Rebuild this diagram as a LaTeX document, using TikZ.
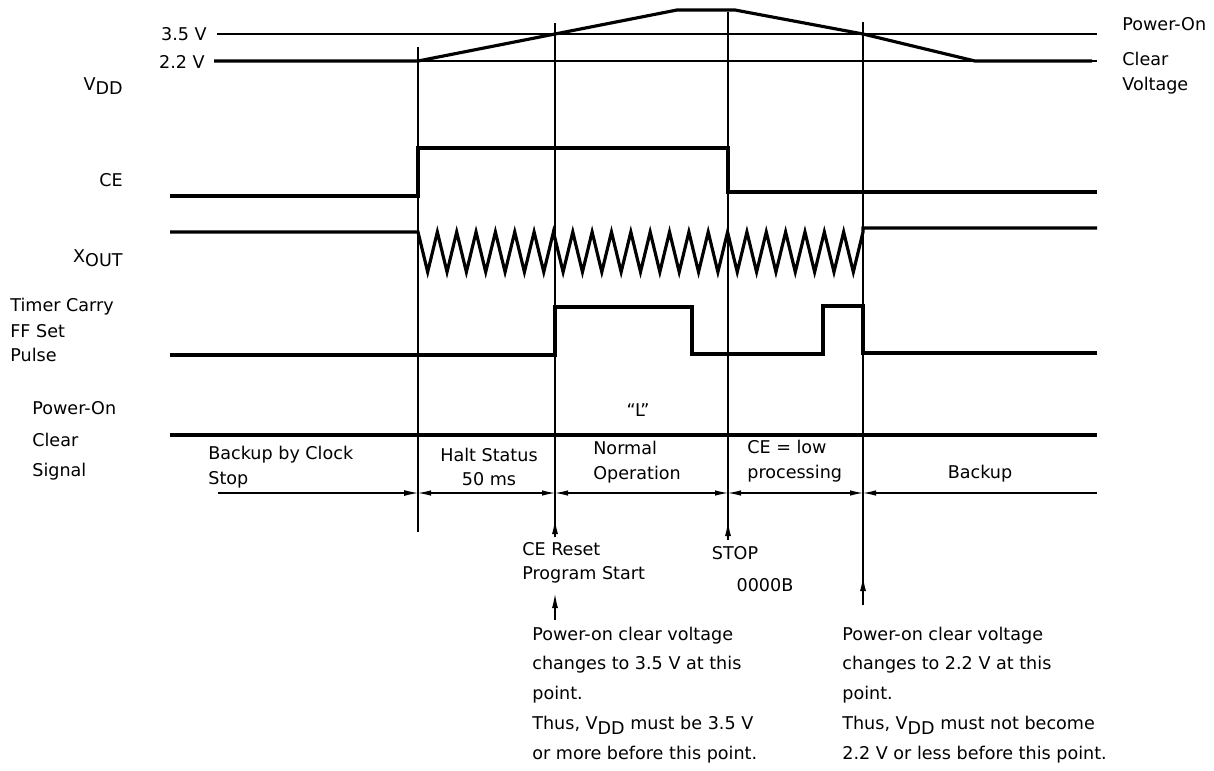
\documentclass[tikz,border=0pt]{standalone}
\usepackage{fontspec}
\setmainfont{DejaVu Sans}
\usetikzlibrary{arrows.meta}
\tikzset{
  sig/.style={black,line width=1.8pt,line join=miter},
  fein/.style={black,line width=0.6pt},
  spitz/.style={fein,-{Latex[length=2.8mm,width=1.2mm]}},
  mass/.style={fein,{Latex[length=2.6mm,width=1.1mm]}-{Latex[length=2.6mm,width=1.1mm]}},
  txt/.style={font=\fontsize{10}{13.9}\selectfont,inner sep=0pt},
  notiz/.style={txt,font=\fontsize{10}{17}\selectfont,anchor=west,align=left},
}
\newcommand\tiefsub[1]{\raisebox{-0.45ex}{#1}}

\begin{document}
\begin{tikzpicture}[x=0.02cm,y=-0.02cm]
  \useasboundingbox (0,0) rectangle (1214,771);
  % VDD
  \draw[fein] (217,34) -- (1097,34);
  \draw[fein] (418,61) -- (1097,61);
  \draw[sig] (214,61) -- (418,61) -- (555,34) -- (677,10) -- (735,10) -- (863,34) -- (975,61) -- (1092,61);
  \node[txt,anchor=east] (u35) at (207,34) {3.5 V};
  \node[txt,anchor=east] (u22) at (205,62) {2.2 V};
  \node[txt,anchor=east] (vdd) at (123,86) {V\tiefsub{DD}};
  \node[txt,anchor=west] (pon) at (1122,24) {Power-On};
  \node[txt,anchor=west] (pclr) at (1122,59) {Clear};
  \node[txt,anchor=west] (pvol) at (1122,86) {Voltage};
  % time marks
  \draw[fein] (418,47) -- (418,532);
  \draw[fein] (555,23) -- (555,537);
  \draw[fein] (728,12) -- (728,540);
  \draw[fein] (863,22) -- (863,605);
  \draw[spitz] (555,537) -- (555,520);
  \draw[spitz] (728,540) -- (728,522);
  \draw[spitz] (863,605) -- (863,577);
  \draw[spitz] (555,620) -- (555,594);
  % CE
  \node[txt,anchor=east] (ce) at (123,180) {CE};
  \draw[sig] (170,196) -- (418,196) -- (418,148) -- (728,148) -- (728,192) -- (1097,192);
  % XOUT
  \node[txt,anchor=east] (xout) at (123,258) {X\tiefsub{OUT}};
  \draw[sig] (170,232) -- (418,232)
    \foreach \i in {1,...,46} { -- ({418+\i*9.674},{252-20*cos(180*\i)}) }
    -- (863,228) -- (1097,228);
  % timer carry
  \node[txt,anchor=west] (tc1) at (10,307) {Timer Carry};
  \node[txt,anchor=west] (tc2) at (10,331) {FF Set};
  \node[txt,anchor=west] (tc3) at (10,355) {Pulse};
  \draw[sig] (170,355) -- (555,355) -- (555,307) -- (692,307) -- (692,354) -- (823,354)
    -- (823,306) -- (863,306) -- (863,353) -- (1097,353);
  % power-on clear
  \node[txt,anchor=west] (pc1) at (32,408) {Power-On};
  \node[txt,anchor=west] (pc2) at (32,440) {Clear};
  \node[txt,anchor=west] (pc3) at (32,472) {Signal};
  \node[txt] (low) at (638,410) {``L''};
  \draw[sig] (170,435) -- (1097,435);
  % phases
  \draw[spitz] (218,493) -- (418,493);
  \draw[mass] (418,493) -- (555,493);
  \draw[mass] (555,493) -- (728,493);
  \draw[mass] (728,493) -- (863,493);
  \draw[fein,{Latex[length=2.6mm,width=1.1mm]}-] (863,493) -- (1097,493);
  \node[txt,anchor=west,align=left] (ph1) at (208,467) {Backup by Clock\\Stop};
  \node[txt,align=center] (ph2) at (489,467) {Halt Status\\50 ms};
  \node[txt,anchor=west,align=left] (ph3) at (593,462) {Normal\\Operation};
  \node[txt,anchor=west,align=left] (ph4) at (747,461) {CE = low\\processing};
  \node[txt] (ph5) at (980,474) {Backup};
  % notes
  \node[txt,anchor=west,align=left] (res) at (522,563) {CE Reset\\Program Start};
  \node[txt] (stp) at (735,553) {STOP};
  \node[txt] (adr) at (765,585) {0000B};
  \node[notiz] (n1) at (532,695) {Power-on clear voltage\\changes to 3.5 V at this\\point.\\Thus, V\tiefsub{DD} must be 3.5 V\\or more before this point.};
  \node[notiz] (n2) at (842,695) {Power-on clear voltage\\changes to 2.2 V at this\\point.\\Thus, V\tiefsub{DD} must not become\\2.2 V or less before this point.};
\end{tikzpicture}
\end{document}
